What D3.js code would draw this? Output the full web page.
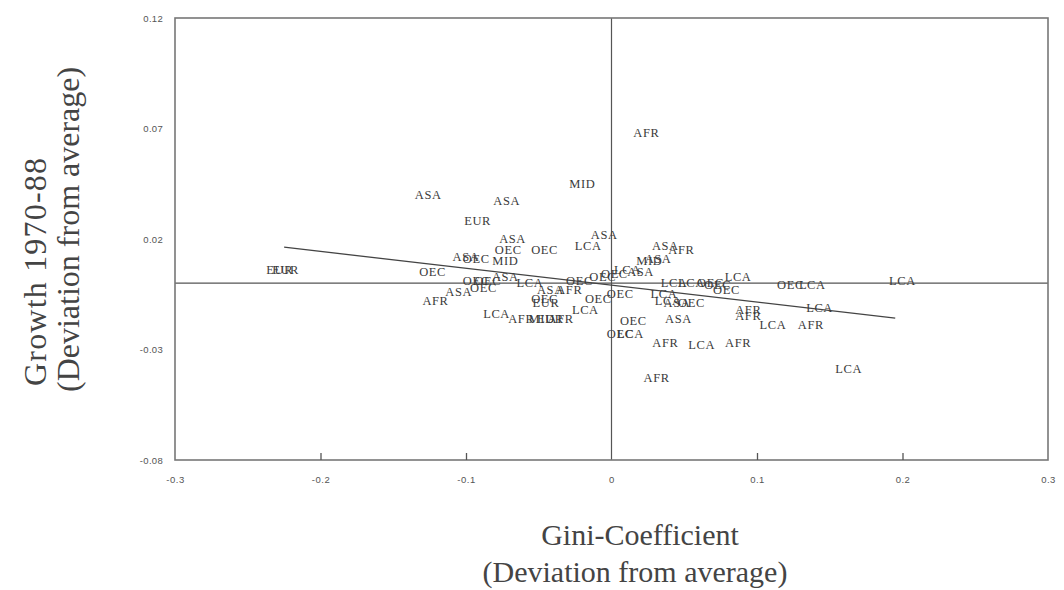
<!DOCTYPE html>
<html>
<head>
<meta charset="utf-8">
<script src="https://cdn.jsdelivr.net/npm/d3@7/dist/d3.min.js"></script>
<style>
  body { margin: 0; background: #fff; }
  svg { display: block; }
</style>
</head>
<body>
<svg id="chart" width="1064" height="590"></svg>
<script>
// ---- data ----
const labels = ["AFR","MID","ASA","ASA","EUR","EUR","EUR","ASA","OEC","OEC","LCA","ASA","ASA","OEC","MID","OEC","OEC","ASA","OEC","LCA","ASA","OEC","AFR","ASA","AFR","OEC","EUR","LCA","AFR","MID","EUR","AFR","LCA","OEC","OEC","OEC","OEC","LCA","ASA","MID","ASA","ASA","AFR","OEC","OEC","OEC","LCA","LCA","LCA","OEC","OEC","LCA","OEC","LCA","LCA","ASA","OEC","ASA","AFR","AFR","LCA","AFR","LCA","OEC","LCA","LCA","LCA","AFR","LCA","AFR","AFR"];
const giniDev = [0.024,-0.020,-0.126,-0.072,-0.092,-0.228,-0.224,-0.068,-0.071,-0.046,-0.016,-0.005,-0.100,-0.093,-0.073,-0.123,-0.093,-0.073,-0.085,-0.056,-0.105,-0.088,-0.121,-0.042,-0.029,-0.046,-0.045,-0.079,-0.062,-0.048,-0.042,-0.035,-0.018,-0.009,0.006,-0.006,0.002,0.011,0.020,0.026,0.032,0.037,0.048,-0.022,0.015,0.006,0.013,0.043,0.055,0.068,0.073,0.087,0.079,0.036,0.039,0.045,0.055,0.046,0.094,0.094,0.111,0.137,0.143,0.123,0.138,0.200,0.163,0.037,0.062,0.087,0.031];
const growthDev = [0.068,0.045,0.040,0.037,0.028,0.006,0.006,0.020,0.015,0.015,0.017,0.022,0.012,0.011,0.010,0.005,0.001,0.003,0.001,0.000,-0.004,-0.002,-0.008,-0.003,-0.003,-0.007,-0.009,-0.014,-0.016,-0.016,-0.016,-0.016,-0.012,-0.007,-0.005,0.003,0.004,0.006,0.005,0.010,0.011,0.017,0.015,0.001,-0.017,-0.023,-0.023,0.000,0.000,0.000,-0.001,0.003,-0.003,-0.005,-0.008,-0.009,-0.009,-0.016,-0.012,-0.015,-0.019,-0.019,-0.011,-0.001,-0.001,0.001,-0.039,-0.027,-0.028,-0.027,-0.043];
// fitted regression line: [x0, y0], [x1, y1]
const fitX = [-0.225, 0.195];
const fitY = [0.0163, -0.0158];
const xTicks = [-0.3, -0.2, -0.1, 0, 0.1, 0.2, 0.3];
const xTickLabels = ["-0.3","-0.2","-0.1","0","0.1","0.2","0.3"];
const yTicks = [0.12, 0.07, 0.02, -0.03, -0.08];
const yTickLabels = ["0.12","0.07","0.02","-0.03","-0.08"];

// ---- layout ----
const svg = d3.select("#chart");
const L = 175, R = 1048, T = 18, B = 460;
const x = d3.scaleLinear().domain([-0.3, 0.3]).range([L, R]);
const y = d3.scaleLinear().domain([-0.08, 0.12]).range([B, T]);

const ink = "#3a3a3a";

// zero reference lines
svg.append("line").attr("x1", L).attr("x2", R).attr("y1", y(0)).attr("y2", y(0))
  .attr("stroke", "#555").attr("stroke-width", 1.2);
svg.append("line").attr("x1", x(0)).attr("x2", x(0)).attr("y1", T).attr("y2", B)
  .attr("stroke", "#555").attr("stroke-width", 1.2);

// frame
svg.append("rect").attr("x", L).attr("y", T).attr("width", R - L).attr("height", B - T)
  .attr("fill", "none").attr("stroke", "#777").attr("stroke-width", 1.6);

// axes (ticks inward)
const xAxis = d3.axisBottom(x).tickValues(xTicks).tickSize(-7)
  .tickFormat((d, i) => xTickLabels[i]).tickPadding(16);
const gx = svg.append("g").attr("transform", `translate(0,${B})`).call(xAxis);
gx.select(".domain").remove();
gx.selectAll(".tick line").attr("stroke", "#555").attr("stroke-width", 1.3)
  .filter(d => d === -0.3 || d === 0 || d === 0.3).remove();
gx.selectAll(".tick text").attr("font-family", "Liberation Sans, Arial, sans-serif")
  .attr("font-size", 9.5).attr("letter-spacing", 0.5).attr("fill", "#555");

const yAxis = d3.axisLeft(y).tickValues(yTicks).tickSize(0)
  .tickFormat((d, i) => yTickLabels[i]).tickPadding(12);
const gy = svg.append("g").attr("transform", `translate(${L},0)`).call(yAxis);
gy.select(".domain").remove();
gy.selectAll(".tick text").attr("font-family", "Liberation Sans, Arial, sans-serif")
  .attr("font-size", 9.5).attr("letter-spacing", 0.3).attr("fill", "#555");

// regression line
svg.append("line")
  .attr("x1", x(fitX[0])).attr("y1", y(fitY[0]))
  .attr("x2", x(fitX[1])).attr("y2", y(fitY[1]))
  .attr("stroke", "#444").attr("stroke-width", 1.3);

// point labels
const pts = labels.map((l, i) => ({ l, gx: giniDev[i], gy: growthDev[i] }));
svg.append("g").selectAll("text").data(pts).join("text")
  .attr("x", d => x(d.gx)).attr("y", d => y(d.gy))
  .attr("text-anchor", "middle").attr("dominant-baseline", "central")
  .attr("font-family", "Liberation Serif, Times New Roman, serif")
  .attr("font-size", 12.5).attr("letter-spacing", 0.6)
  .attr("fill", ink)
  .text(d => d.l);

// axis titles
const serif = "Liberation Serif, Times New Roman, serif";
svg.append("text").attr("x", 640).attr("y", 545).attr("text-anchor", "middle")
  .attr("font-family", serif).attr("font-size", 30).attr("fill", "#444")
  .text("Gini-Coefficient");
svg.append("text").attr("x", 635).attr("y", 582).attr("text-anchor", "middle")
  .attr("font-family", serif).attr("font-size", 30).attr("fill", "#444")
  .text("(Deviation from average)");

svg.append("text").attr("transform", "translate(46,386) rotate(-90)")
  .attr("text-anchor", "start")
  .attr("font-family", serif).attr("font-size", 32).attr("letter-spacing", 1.2).attr("fill", "#444")
  .text("Growth 1970-88");
svg.append("text").attr("transform", "translate(79,392) rotate(-90)")
  .attr("text-anchor", "start")
  .attr("font-family", serif).attr("font-size", 32).attr("fill", "#444")
  .text("(Deviation from average)");
</script>
</body>
</html>
